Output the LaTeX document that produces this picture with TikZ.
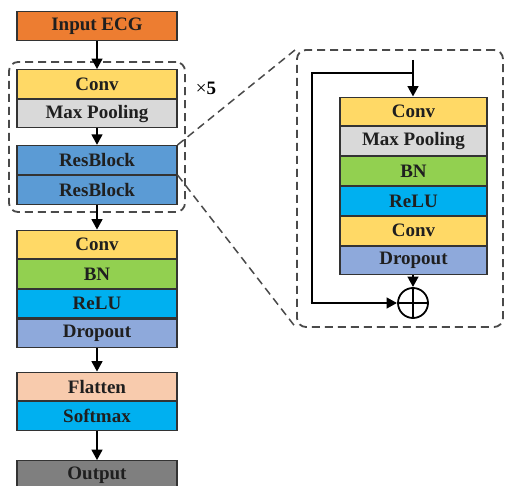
\documentclass[tikz,border=0pt]{standalone}
\usepackage{fontspec}
\setmainfont{Liberation Serif}
\usetikzlibrary{arrows.meta,calc}

\definecolor{cOrange}{HTML}{ED7D31}
\definecolor{cYellow}{HTML}{FFD966}
\definecolor{cGray}{HTML}{D9D9D9}
\definecolor{cBlue}{HTML}{5B9BD5}
\definecolor{cGreen}{HTML}{92D050}
\definecolor{cCyan}{HTML}{00B0F0}
\definecolor{cLav}{HTML}{8EA9DB}
\definecolor{cPeach}{HTML}{F8CBAD}
\definecolor{cDark}{HTML}{7F7F7F}
\definecolor{cEdge}{HTML}{333333}
\definecolor{cDash}{HTML}{4A4A4A}

\tikzset{
  layer/.style={draw=cEdge, line width=1.1pt, minimum width=160pt, minimum height=28.5pt,
    inner sep=0pt, text=black!88, font=\fontsize{19}{21}\selectfont\bfseries},
  rlayer/.style={layer, minimum width=147pt, minimum height=28.7pt},
  flow/.style={line width=2.6pt, -{Triangle[length=10.5pt,width=10.5pt]}},
  plainflow/.style={line width=2.6pt},
  groupbox/.style={draw=cDash, line width=1.8pt, dash pattern=on 8pt off 5pt, rounded corners=9pt},
  zoomline/.style={draw=cDash, line width=1.5pt, dash pattern=on 8pt off 5pt},
}

\begin{document}
\begin{tikzpicture}[x=1pt, y=-1pt]
\useasboundingbox (0,0) rectangle (505,486);

% main pipeline
\node[layer, fill=cOrange] (inp) at (97,26) {Input ECG};
\node[layer, fill=cYellow] (conv1) at (97,84) {Conv};
\node[layer, fill=cGray, anchor=north] (pool1) at (conv1.south) {Max Pooling};
\node[layer, fill=cBlue, minimum height=29pt] (res1) at (97,160) {ResBlock};
\node[layer, fill=cBlue, minimum height=29pt, anchor=north] (res2) at (res1.south) {ResBlock};
\node[layer, fill=cYellow] (conv2) at (97,244.5) {Conv};
\node[layer, fill=cGreen, anchor=north] (bn2) at (conv2.south) {BN};
\node[layer, fill=cCyan, anchor=north] (relu2) at (bn2.south) {ReLU};
\node[layer, fill=cLav, anchor=north] (drop2) at (relu2.south) {Dropout};
\node[layer, fill=cPeach] (flat) at (97,386.5) {Flatten};
\node[layer, fill=cCyan, anchor=north] (soft) at (flat.south) {Softmax};
\node[layer, fill=cDark] (out) at (97,475) {Output};

% repeated group
\node[groupbox, minimum width=176pt, minimum height=150pt] (grp) at (97,137) {};
\node[font=\fontsize{19}{21}\selectfont] (rep) at (206,88) {×\textbf{5}};

\draw[flow] (inp) -- (conv1);
\draw[flow] (pool1) -- (res1);
\draw[flow] (res2) -- (conv2);
\draw[flow] (drop2) -- (flat);
\draw[flow] (soft) -- (out);

% residual block detail
\node[groupbox, minimum width=206pt, minimum height=277pt] (det) at (400,188.5) {};
\node[rlayer, fill=cYellow] (rc1) at (413.5,111.5) {Conv};
\node[rlayer, fill=cGray, anchor=north] (rpool) at (rc1.south) {Max Pooling};
\node[rlayer, fill=cGreen, anchor=north] (rbn) at (rpool.south) {BN};
\node[rlayer, fill=cCyan, anchor=north] (rrelu) at (rbn.south) {ReLU};
\node[rlayer, fill=cYellow, anchor=north] (rc2) at (rrelu.south) {Conv};
\node[rlayer, fill=cLav, anchor=north] (rdrop) at (rc2.south) {Dropout};
\node[draw, line width=1.8pt, circle, minimum size=30pt, inner sep=0pt] (sum) at (413,303) {};
\draw[line width=1.8pt] (sum.north) -- (sum.south) (sum.west) -- (sum.east);

\coordinate (rin) at (413,60);
\coordinate (split) at (413,73);
\coordinate (skipT) at (312,73);
\coordinate (skipB) at (312,303);
\draw[flow] (rin) -- (rc1.north -| rin);
\draw[plainflow, line join=miter] (split) -- (skipT) -- (skipB);
\draw[flow, shorten <=-1.3pt] (skipB) -- (sum.west);
\draw[flow] (rdrop.south -| sum) -- (sum.north);

% zoom guides
\draw[zoomline] (res1.north east) -- (det.north west);
\draw[zoomline] (res1.south east) -- (det.south west);
\end{tikzpicture}
\end{document}
